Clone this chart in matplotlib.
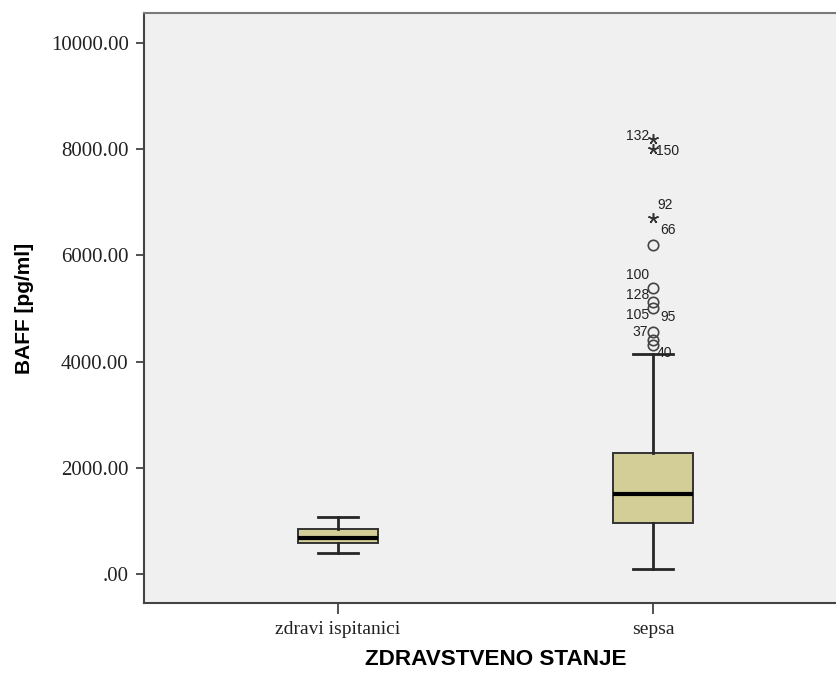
import numpy as np
import matplotlib.pyplot as plt
from matplotlib.ticker import FuncFormatter

# Groups and box statistics (pg/ml)
groups = ['zdravi ispitanici', 'sepsa']
whisker_low = [400, 95]
q1 = [585, 955]
median = [685, 1500]
q3 = [848, 2275]
whisker_high = [1075, 4140]

# Outliers of the sepsa group
extreme_vals = [8185, 7997, 6698]          # stars
outlier_vals = [6195, 5380, 5128, 5003, 4563, 4406, 4312]   # circles

# Case labels and the value they sit next to
label_ids = ['132', '150', '92', '66', '100', '128', '105', '95', '37', '40']
label_vals = [8185, 7997, 6698, 6195, 5380, 5128, 5003, 5003, 4563, 4312]

y_ticks = [0, 2000, 4000, 6000, 8000, 10000]

# label placement (pixels from the marker) and alignment
label_dx = [-4, 3, 4, 7, -4, -4, -4, 7, -5, 4]
label_dy = [3, -2, 13, 15, 13, 7, -7, -9, 0, -8]
label_ha = ['right', 'left', 'left', 'left', 'right', 'right', 'right', 'left', 'right', 'left']

serif = ['Liberation Serif', 'DejaVu Serif']
sans = ['Liberation Sans', 'DejaVu Sans']

fig = plt.figure(figsize = (8.37, 6.77), dpi = 100)
ax = fig.add_axes([144 / 837, 74 / 677, 703 / 837, 590 / 677])
ax.set_facecolor('#f0f0f0')

positions = [1, 2]
stats = []
for i in range(len(groups)):
    stats.append({'whislo': whisker_low[i], 'q1': q1[i], 'med': median[i],
                  'q3': q3[i], 'whishi': whisker_high[i], 'fliers': []})

ax.bxp(stats, positions = positions, widths = 0.252, capwidths = 0.127,
       showfliers = False, patch_artist = True,
       boxprops = dict(facecolor = '#d3ce97', edgecolor = '#333333', linewidth = 1.4),
       medianprops = dict(color = 'black', linewidth = 3),
       whiskerprops = dict(color = '#262626', linewidth = 2),
       capprops = dict(color = '#262626', linewidth = 2))

x_sep = positions[1]
ax.plot([x_sep] * len(outlier_vals), outlier_vals, linestyle = 'none', marker = 'o',
        markersize = 7.5, markerfacecolor = 'none', markeredgecolor = '#444444',
        markeredgewidth = 1.2)
ax.plot([x_sep] * len(extreme_vals), extreme_vals, linestyle = 'none', marker = (5, 2, 0),
        markersize = 7.5, markeredgecolor = '#333333', markeredgewidth = 1.1)

px = 72 / 100
for lid, val, dx, dy, ha in zip(label_ids, label_vals, label_dx, label_dy, label_ha):
    ax.annotate(lid, (x_sep, val), xytext = (dx * px, dy * px), textcoords = 'offset points',
                ha = ha, va = 'center', fontsize = 10, family = sans, color = '#222222')

ax.set_xlim(0.384, 2.616)
ax.set_ylim(-546, 10565)
ax.set_xticks(positions)
ax.set_xticklabels(groups, family = serif, fontsize = 14, color = '#222222')
ax.set_yticks(y_ticks)
ax.yaxis.set_major_formatter(FuncFormatter(lambda v, p: '.00' if v == 0 else f'{v:.2f}'))
for lab in ax.get_yticklabels():
    lab.set_family(serif)
    lab.set_fontsize(15)
    lab.set_color('#222222')

ax.tick_params(axis = 'y', direction = 'out', length = 6, width = 1.2, color = '#333333', pad = 5)
ax.tick_params(axis = 'x', direction = 'out', length = 8, width = 1.2, color = '#333333', pad = 5)

ax.spines['right'].set_visible(False)
ax.spines['top'].set_color('#7a7a7a')
ax.spines['top'].set_linewidth(1.5)
ax.spines['left'].set_color('#444444')
ax.spines['left'].set_linewidth(1.5)
ax.spines['bottom'].set_color('#444444')
ax.spines['bottom'].set_linewidth(1.5)

ax.set_xlabel('ZDRAVSTVENO STANJE', family = sans, fontsize = 16.2, fontweight = 'bold', labelpad = 8)
ax.set_ylabel('BAFF [pg/ml]', family = sans, fontsize = 15, fontweight = 'bold', labelpad = 12)

fig.savefig('out.png', dpi = 100)
